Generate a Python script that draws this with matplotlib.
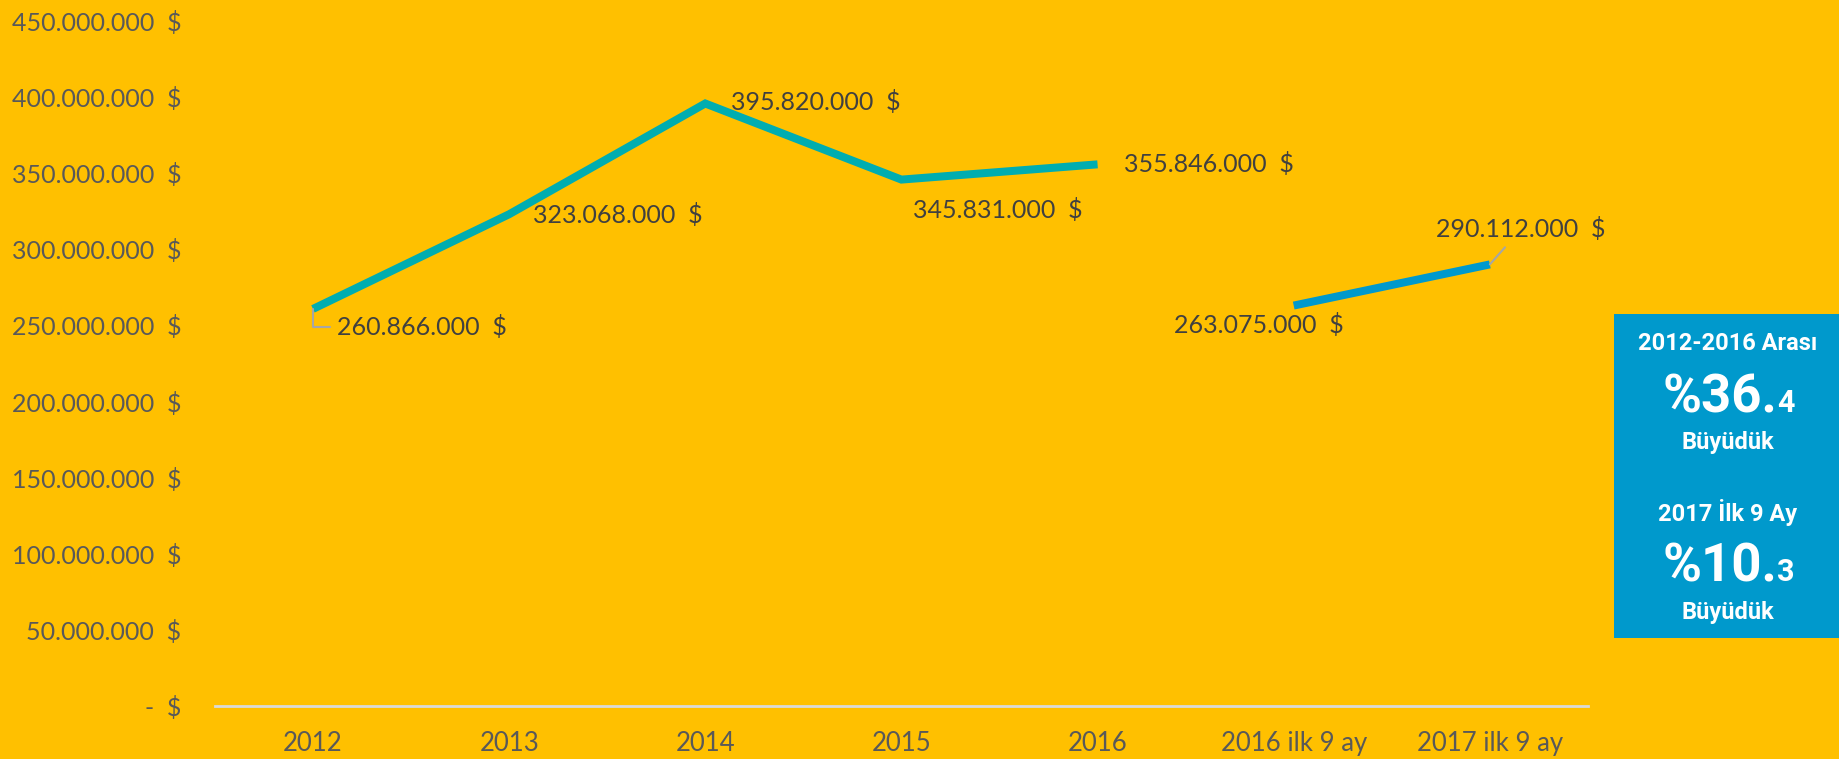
import matplotlib
matplotlib.use("Agg")
import matplotlib.pyplot as plt
import numpy as np
from matplotlib.patches import Rectangle
from matplotlib.ticker import FuncFormatter

# veriler
kategoriler = ["2012", "2013", "2014", "2015", "2016", "2016 ilk 9 ay", "2017 ilk 9 ay"]
yillik = [260866000, 323068000, 395820000, 345831000, 355846000, np.nan, np.nan]
dokuz_ay = [np.nan, np.nan, np.nan, np.nan, np.nan, 263075000, 290112000]
y_ticks = [0, 50e6, 100e6, 150e6, 200e6, 250e6, 300e6, 350e6, 400e6, 450e6]

# etiket ofsetleri (piksel)
ofset_yillik = [(109, -18), (109, -1), (111, 1), (96, -30), (111, 0)]
ofset_dokuz = {5: (-35, -19), 6: (31, 35)}

arka = "#FFC000"
teal = "#00ADB0"
mavi = "#0099CC"
koyu = "#404040"
gri = "#595959"

plt.rcParams["font.family"] = ["Lato", "DejaVu Sans"]

fig = plt.figure(figsize=(18.4, 7.59), dpi=100, facecolor=arka)
ax = fig.add_axes([0.1168, 0.0698, 0.7462, 0.9025])
ax.set_facecolor(arka)

x = np.arange(len(kategoriler))
ax.plot(x, yillik, color=teal, lw=5.75, solid_joinstyle="miter", solid_capstyle="butt")
ax.plot(x, dokuz_ay, color=mavi, lw=5.75, solid_joinstyle="miter", solid_capstyle="butt")

ax.set_xlim(-0.5, len(kategoriler) - 0.5)
ax.set_ylim(0, 450e6)
ax.set_xticks(x)
ax.set_xticklabels(kategoriler)
ax.set_yticks(y_ticks)


def para(v, pos=None):
    if v == 0:
        return "-  $"
    return f"{v:,.0f}".replace(",", ".") + "  $"


ax.yaxis.set_major_formatter(FuncFormatter(para))
ax.tick_params(axis="both", length=0, colors=gri)
ax.tick_params(axis="y", labelsize=18, pad=24)
ax.tick_params(axis="x", labelsize=18.5, pad=18)
for s in ["top", "right", "left"]:
    ax.spines[s].set_visible(False)
ax.spines["bottom"].set_color("#D9D9D9")
ax.spines["bottom"].set_linewidth(2)

lider = dict(arrowstyle="-", color="#A6A6A6", lw=1.5, shrinkA=3, shrinkB=0)

for i, v in enumerate(yillik):
    if np.isnan(v):
        continue
    dx, dy = ofset_yillik[i]
    kw = {}
    if i == 0:
        kw["arrowprops"] = dict(lider, connectionstyle="angle,angleA=0,angleB=90,rad=0")
    ax.annotate(para(v), (x[i], v), xytext=(dx, dy), textcoords="offset pixels",
                ha="center", va="center", fontsize=18, color=koyu, **kw)

for i, v in enumerate(dokuz_ay):
    if np.isnan(v):
        continue
    dx, dy = ofset_dokuz[i]
    kw = {}
    if i == 6:
        kw["arrowprops"] = dict(lider)
    ax.annotate(para(v), (x[i], v), xytext=(dx, dy), textcoords="offset pixels",
                ha="center", va="center", fontsize=18, color=koyu, **kw)

# sağdaki kutu
fig.patches.append(Rectangle((0.8772, 0.1594), 0.1228, 0.4269, transform=fig.transFigure,
                             facecolor=mavi, edgecolor="none", zorder=0))

dar = ["Roboto", "DejaVu Sans"]
kutu = dict(color="white", fontweight="bold", family=dar, ha="center", va="center")
cx = 1728 / 1840
fig.text(cx, 1 - 343 / 759, "2012-2016 Arası", fontsize=17, **kutu)
fig.text(cx, 1 - 443 / 759, "Büyüdük", fontsize=17, **kutu)
fig.text(cx, 1 - 512 / 759, "2017 İlk 9 Ay", fontsize=17, **kutu)
fig.text(cx, 1 - 612 / 759, "Büyüdük", fontsize=17, **kutu)

buyuk = dict(color="white", fontweight="bold", family=dar, va="baseline")
bx = 1777 / 1840
for yb, ana, kucuk in [(412, "%36.", "4"), (581, "%10.", "3")]:
    fig.text(bx, 1 - yb / 759, ana, fontsize=38, ha="right", **buyuk)
    fig.text(bx, 1 - yb / 759, kucuk, fontsize=22, ha="left", **buyuk)

fig.savefig("out.png", dpi=100, facecolor=arka)
